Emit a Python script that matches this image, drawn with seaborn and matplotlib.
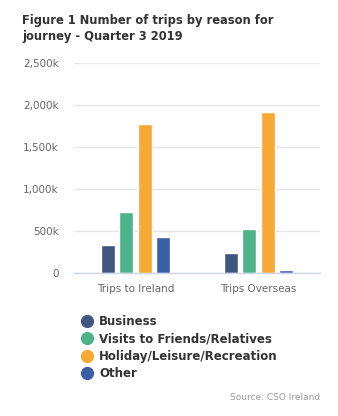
import matplotlib
matplotlib.use("Agg")
import matplotlib.pyplot as plt
import seaborn as sns
import pandas as pd
from matplotlib.lines import Line2D

categories = ["Trips to Ireland", "Trips Overseas"]
reasons = ["Business", "Visits to Friends/Relatives", "Holiday/Leisure/Recreation", "Other"]
business = [334, 238]
vfr = [727, 524]
holiday = [1776, 1919]
other = [429, 36]
colors = ["#405580", "#4db38a", "#f6a935", "#3c5ea8"]
yticks = [0, 500, 1000, 1500, 2000, 2500]
ytick_labels = ["0", "500k", "1,000k", "1,500k", "2,000k", "2,500k"]

rows = []
for r, vals in zip(reasons, [business, vfr, holiday, other]):
    for c, v in zip(categories, vals):
        rows.append({"category": c, "reason": r, "value": v})
df = pd.DataFrame(rows)

sns.set_style("white")
plt.rcParams["font.family"] = ["DejaVu Sans"]

fig = plt.figure(figsize=(3.38, 4.16), dpi=100)
W, H = 338, 416
ax = fig.add_axes([74 / W, (H - 273) / H, (320 - 74) / W, (273 - 63) / H])

sns.barplot(data=df, x="category", y="value", hue="reason", order=categories,
            hue_order=reasons, palette=colors, width=0.6, gap=0.24,
            saturation=1, ax=ax, legend=False)

ax.set_ylim(0, 2500)
ax.set_yticks(yticks)
ax.set_yticklabels(ytick_labels, color="#666666", fontsize=7.5)
ax.tick_params(axis="x", colors="#666666", labelsize=7.5, length=0, pad=8)
ax.tick_params(axis="y", length=0, pad=11)
ax.grid(axis="y", color="#e6e6e6", linewidth=1)
ax.set_axisbelow(True)
for s in ["top", "right", "left"]:
    ax.spines[s].set_visible(False)
ax.spines["bottom"].set_color("#ccd6eb")
ax.spines["bottom"].set_linewidth(1)
ax.set_xlabel("")
ax.set_ylabel("")
ax.set_xlim(-0.5, 1.5)

fig.text(22 / W, 1 - 14 / H, "Figure 1 Number of trips by reason for\njourney - Quarter 3 2019",
         fontsize=8.3, fontweight="bold", color="#333333", va="top", ha="left",
         linespacing=1.3)

handles = [Line2D([0], [0], marker="o", linestyle="", markersize=8.5,
                  markerfacecolor=c, markeredgecolor=c) for c in colors]
fig.legend(handles, reasons, loc="upper left", bbox_to_anchor=(81 / W, 1 - 315 / H),
           frameon=False, prop={"weight": "bold", "size": 8.5}, labelcolor="#333333",
           handletextpad=0.55, labelspacing=0.38, handlelength=1.0, borderpad=0,
           borderaxespad=0)

fig.text(320 / W, 1 - 398 / H, "Source: CSO Ireland", fontsize=6.5, color="#999999",
         ha="right", va="center")

fig.savefig("out.png", dpi=100)
